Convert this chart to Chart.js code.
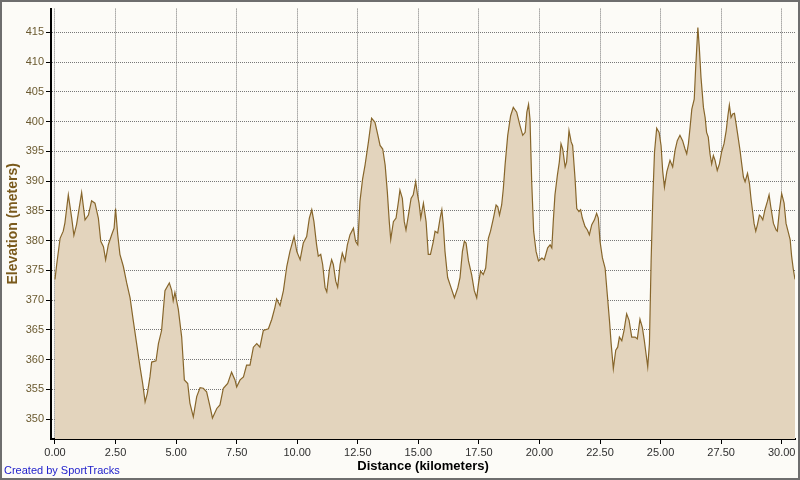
<!DOCTYPE html>
<html>
<head>
<meta charset="utf-8">
<script src="https://cdn.jsdelivr.net/npm/chart.js@4.4.0/dist/chart.umd.min.js"></script>
<style>
  html, body { margin: 0; padding: 0; background: #fcfbf7; }
  canvas { display: block; }
</style>
</head>
<body>
<canvas id="elevChart" width="800" height="480"></canvas>
<script>
const distanceKm = [
  0.00, 0.07, 0.21, 0.34, 0.41, 0.55, 0.69, 0.78, 0.89, 1.10, 1.24, 1.38, 1.51, 1.65, 1.79, 1.89,
  2.00, 2.09, 2.20, 2.34, 2.44, 2.50, 2.59, 2.68, 2.82, 2.96, 3.10, 3.23, 3.37, 3.51, 3.62, 3.72,
  3.81, 3.92, 3.99, 4.17, 4.27, 4.40, 4.54, 4.72, 4.82, 4.88, 4.95, 5.09, 5.23, 5.34, 5.48, 5.57,
  5.71, 5.85, 5.99, 6.12, 6.26, 6.40, 6.50, 6.68, 6.81, 6.95, 7.13, 7.29, 7.43, 7.50, 7.64, 7.78,
  7.91, 8.05, 8.19, 8.33, 8.46, 8.60, 8.81, 8.95, 9.08, 9.15, 9.29, 9.43, 9.57, 9.70, 9.87, 9.98,
  10.12, 10.25, 10.39, 10.50, 10.60, 10.69, 10.80, 10.87, 10.97, 11.05, 11.15, 11.22, 11.33, 11.42,
  11.49, 11.59, 11.67, 11.77, 11.86, 11.97, 12.07, 12.18, 12.32, 12.41, 12.50, 12.59, 12.70, 12.80,
  12.94, 13.07, 13.21, 13.32, 13.42, 13.53, 13.63, 13.72, 13.80, 13.86, 13.97, 14.08, 14.18, 14.24,
  14.34, 14.42, 14.49, 14.59, 14.70, 14.79, 14.89, 14.96, 15.03, 15.10, 15.21, 15.32, 15.41, 15.50,
  15.62, 15.69, 15.80, 15.90, 15.97, 16.03, 16.10, 16.21, 16.35, 16.49, 16.63, 16.72, 16.82, 16.90,
  16.97, 17.07, 17.20, 17.31, 17.41, 17.48, 17.57, 17.68, 17.78, 17.89, 17.98, 18.10, 18.21, 18.28,
  18.35, 18.44, 18.51, 18.58, 18.69, 18.81, 18.92, 19.06, 19.20, 19.31, 19.41, 19.48, 19.55, 19.61,
  19.68, 19.76, 19.86, 19.96, 20.10, 20.20, 20.34, 20.44, 20.51, 20.57, 20.64, 20.74, 20.82, 20.89,
  20.96, 21.06, 21.12, 21.22, 21.31, 21.37, 21.47, 21.54, 21.63, 21.70, 21.77, 21.88, 21.98, 22.06,
  22.16, 22.27, 22.36, 22.43, 22.50, 22.60, 22.71, 22.80, 22.89, 22.96, 23.05, 23.15, 23.23, 23.30,
  23.40, 23.49, 23.60, 23.70, 23.81, 23.95, 24.04, 24.15, 24.25, 24.33, 24.40, 24.47, 24.54, 24.61,
  24.68, 24.75, 24.84, 24.94, 25.02, 25.09, 25.16, 25.26, 25.39, 25.50, 25.60, 25.69, 25.80, 25.91,
  26.01, 26.08, 26.15, 26.22, 26.29, 26.39, 26.45, 26.54, 26.60, 26.67, 26.77, 26.84, 26.90, 26.97,
  27.04, 27.11, 27.18, 27.25, 27.34, 27.43, 27.52, 27.62, 27.71, 27.78, 27.84, 27.91, 27.98, 28.05,
  28.12, 28.19, 28.28, 28.35, 28.42, 28.49, 28.59, 28.67, 28.74, 28.81, 28.86, 28.93, 29.00, 29.08,
  29.14, 29.22, 29.31, 29.41, 29.48, 29.55, 29.66, 29.77, 29.82, 29.91, 30.00, 30.10, 30.18, 30.28,
  30.35, 30.41, 30.48, 30.55
];

const elevationM = [
  373.5, 376.0, 380.4, 381.6, 383.0, 387.7, 383.8, 380.9, 382.7, 388.1, 383.5, 384.3, 386.7, 386.3, 383.8, 379.9,
  379.0, 376.8, 379.3, 381.0, 382.1, 385.4, 381.0, 377.7, 375.7, 372.9, 370.4, 366.6, 362.7, 358.8, 356.0, 352.9,
  354.3, 357.1, 359.6, 359.8, 362.7, 364.9, 371.6, 372.9, 371.6, 369.9, 371.3, 368.5, 363.8, 356.6, 356.0, 352.7,
  350.4, 353.8, 355.3, 355.2, 354.6, 352.1, 350.2, 351.8, 352.4, 355.2, 356.0, 357.9, 356.6, 355.4, 356.6, 357.1,
  359.1, 359.1, 362.1, 362.7, 362.1, 364.9, 365.2, 366.8, 368.8, 370.2, 369.1, 371.6, 375.7, 378.2, 380.7, 378.2,
  376.8, 379.6, 380.7, 383.8, 385.2, 383.2, 379.3, 377.4, 377.7, 376.0, 372.1, 371.4, 375.2, 376.8,
  376.0, 373.2, 372.2, 376.0, 377.9, 376.6, 379.3, 381.0, 382.1, 379.9, 379.3, 386.6, 390.4, 392.7,
  396.6, 400.6, 399.9, 397.9, 396.0, 395.4, 392.7, 388.2, 383.2, 380.2, 383.2, 383.8, 386.6, 388.5,
  387.1, 383.2, 381.8, 384.3, 387.1, 387.7, 389.9, 387.9, 386.3, 383.8, 386.3, 383.2, 377.7, 377.7,
  379.9, 381.6, 381.3, 383.8, 385.2, 382.7, 378.2, 373.8, 372.1, 370.4, 372.1, 373.8, 378.2, 379.9,
  379.6, 376.6, 374.3, 371.6, 370.4, 372.7, 374.9, 374.3, 375.4, 380.4, 381.6, 383.8, 386.0, 385.7,
  384.3, 386.0, 388.8, 392.7, 397.7, 401.0, 402.4, 401.6, 399.3, 397.7, 398.2, 401.6, 402.9, 400.4,
  389.9, 381.6, 378.2, 376.6, 377.1, 376.8, 378.8, 379.3, 378.8, 383.2, 387.7, 391.0, 393.2, 396.3,
  395.4, 392.4, 393.2, 398.5, 396.6, 396.0, 390.4, 385.4, 384.9, 385.2, 383.8, 382.4, 381.8, 381.0,
  382.7, 383.5, 384.6, 383.8, 379.9, 377.1, 375.4, 371.0, 366.6, 362.7, 358.5, 361.6, 362.1, 363.8,
  363.2, 364.9, 367.7, 366.6, 363.8, 363.8, 363.5, 366.8, 365.4, 363.2, 361.0, 358.8, 362.7, 376.6,
  387.1, 394.9, 398.9, 398.2, 396.0, 391.6, 389.0, 391.6, 393.5, 392.4, 395.2, 396.8, 397.7, 396.8,
  395.4, 394.6, 396.3, 399.1, 402.1, 403.8, 409.1, 415.8, 412.4, 407.4, 402.4, 400.7, 398.2, 397.4,
  394.6, 392.9, 394.3, 393.5, 391.8, 392.9, 394.9, 396.3, 398.5, 401.0, 402.8, 400.7, 401.3, 401.4,
  399.6, 397.7, 395.2, 392.9, 390.7, 389.9, 391.3, 389.6, 386.8, 384.6, 382.9, 381.6, 382.7, 384.3,
  384.1, 383.5, 385.2, 386.6, 387.7, 385.7, 382.9, 381.8, 381.6, 385.2, 387.9, 386.3, 382.9, 381.3,
  380.2, 377.4, 375.2, 373.5
];

const xTicks = [0, 2.5, 5, 7.5, 10, 12.5, 15, 17.5, 20, 22.5, 25, 27.5, 30];
const yTicks = [350, 355, 360, 365, 370, 375, 380, 385, 390, 395, 400, 405, 410, 415];

const points = distanceKm.map((d, i) => ({ x: d, y: elevationM[i] }));

// fondo, marco y crédito
const decor = {
  id: 'decor',
  beforeDraw(chart) {
    const ctx = chart.ctx;
    ctx.save();
    ctx.fillStyle = '#fcfbf7';
    ctx.fillRect(0, 0, chart.width, chart.height);
    ctx.restore();
  },
  afterDraw(chart) {
    const ctx = chart.ctx;
    ctx.save();
    ctx.strokeStyle = '#6e6e6e';
    ctx.lineWidth = 2;
    ctx.strokeRect(1, 1, chart.width - 2, chart.height - 2);
    ctx.fillStyle = '#2222cc';
    ctx.font = '11px "Liberation Sans", Arial, sans-serif';
    ctx.textBaseline = 'middle';
    ctx.fillText('Created by SportTracks', 4, 471);
    ctx.restore();
  }
};

const gridOpts = {
  color: '#777777',
  lineWidth: 1,
  drawTicks: true,
  tickLength: 5,
  tickColor: '#000',
  tickWidth: 1,
  tickBorderDash: []
};

new Chart(document.getElementById('elevChart').getContext('2d'), {
  type: 'line',
  data: {
    datasets: [{
      data: points,
      borderColor: '#87662b',
      borderWidth: 1.2,
      backgroundColor: '#e3d4bd',
      fill: 'start',
      pointRadius: 0,
      tension: 0
    }]
  },
  options: {
    responsive: false,
    animation: false,
    devicePixelRatio: 1,
    layout: { padding: { top: 5, right: 5, left: 0, bottom: 0 } },
    plugins: { legend: { display: false }, tooltip: { enabled: false } },
    scales: {
      x: {
        type: 'linear',
        min: -0.165,
        max: 30.55,
        z: 1,
        afterBuildTicks: s => { s.ticks = xTicks.map(v => ({ value: v })); },
        afterFit: s => { s.height = 41; },
        grid: gridOpts,
        border: { display: true, color: '#000', width: 2, dash: [1, 1] },
        ticks: {
          font: { family: 'Liberation Sans', size: 11 },
          color: '#2e2e2e',
          padding: 2,
          maxRotation: 0,
          autoSkip: false,
          callback: v => Number(v).toFixed(2)
        },
        title: {
          display: true,
          text: 'Distance (kilometers)',
          color: '#000',
          font: { family: 'Liberation Sans', size: 13, weight: 'bold' },
          padding: { top: 0, bottom: 6 }
        }
      },
      y: {
        min: 346.67,
        max: 419,
        z: 1,
        afterBuildTicks: s => { s.ticks = yTicks.map(v => ({ value: v })); },
        afterFit: s => { s.width = 51; },
        grid: gridOpts,
        border: { display: true, color: '#000', width: 2, dash: [1, 1] },
        ticks: {
          font: { family: 'Liberation Sans', size: 11 },
          color: '#6b5a30',
          padding: 2,
          autoSkip: false,
          callback: v => String(v)
        },
        title: {
          display: true,
          text: 'Elevation (meters)',
          color: '#7a5a1c',
          font: { family: 'Liberation Sans', size: 14, weight: 'bold' },
          padding: { top: 5, bottom: 0 }
        }
      }
    }
  },
  plugins: [decor]
});
</script>
</body>
</html>
